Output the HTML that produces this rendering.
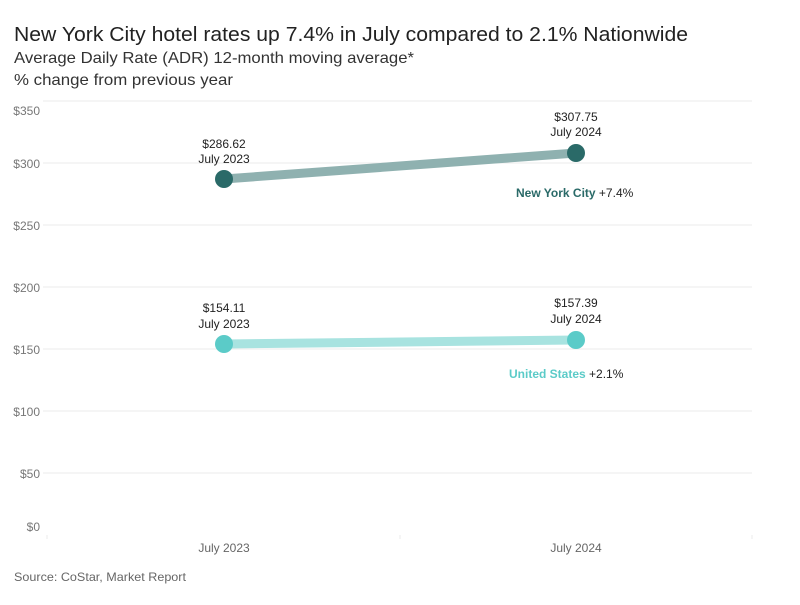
<!DOCTYPE html>
<html><head><meta charset="utf-8"><style>
body{margin:0;background:#fff;font-family:"Liberation Sans",sans-serif;}
</style></head><body>
<svg width="800" height="600" xmlns="http://www.w3.org/2000/svg" font-family="Liberation Sans, sans-serif">
<text x="14" y="41" font-size="20" fill="#222" textLength="674" lengthAdjust="spacingAndGlyphs">New York City hotel rates up 7.4% in July compared to 2.1% Nationwide</text>
<text x="14" y="63" font-size="16" fill="#333" textLength="400" lengthAdjust="spacingAndGlyphs">Average Daily Rate (ADR) 12-month moving average*</text>
<text x="14" y="85" font-size="16" fill="#333" textLength="219" lengthAdjust="spacingAndGlyphs">% change from previous year</text>
<g stroke="#ebebeb" stroke-width="1">
<line x1="43" x2="752" y1="101" y2="101"/><line x1="43" x2="752" y1="163" y2="163"/>
<line x1="43" x2="752" y1="225" y2="225"/><line x1="43" x2="752" y1="287" y2="287"/>
<line x1="43" x2="752" y1="349" y2="349"/><line x1="43" x2="752" y1="411" y2="411"/>
<line x1="43" x2="752" y1="473" y2="473"/>
<line x1="47" x2="47" y1="535" y2="539"/><line x1="400" x2="400" y1="535" y2="539"/><line x1="752" x2="752" y1="535" y2="539"/>
</g>
<g font-size="12" fill="#777" text-anchor="end">
<text x="40" y="115">$350</text><text x="40" y="168">$300</text><text x="40" y="230">$250</text>
<text x="40" y="292">$200</text><text x="40" y="354">$150</text><text x="40" y="416">$100</text>
<text x="40" y="478">$50</text><text x="40" y="531">$0</text>
</g>
<g font-size="12" fill="#666" text-anchor="middle">
<text x="224" y="552">July 2023</text><text x="576" y="552">July 2024</text>
</g>
<text x="14" y="581" font-size="12" fill="#666" textLength="172" lengthAdjust="spacingAndGlyphs">Source: CoStar, Market Report</text>
<line x1="224" y1="179" x2="576" y2="153" stroke="#8fb1b0" stroke-width="9"/>
<circle cx="224" cy="179" r="9" fill="#2a6a68"/><circle cx="576" cy="153" r="9" fill="#2a6a68"/>
<line x1="224" y1="344" x2="576" y2="340" stroke="#a8e3e0" stroke-width="9"/>
<circle cx="224" cy="344" r="9" fill="#5bcbc8"/><circle cx="576" cy="340" r="9" fill="#5bcbc8"/>
<g font-size="12" fill="#222" text-anchor="middle">
<text x="224" y="148">$286.62</text><text x="224" y="163">July 2023</text>
<text x="576" y="121">$307.75</text><text x="576" y="136">July 2024</text>
<text x="224" y="312">$154.11</text><text x="224" y="328">July 2023</text>
<text x="576" y="307">$157.39</text><text x="576" y="323">July 2024</text>
</g>
<text x="516" y="197" font-size="12" fill="#222"><tspan fill="#2a6a68" font-weight="bold">New York City</tspan> +7.4%</text>
<text x="509" y="378" font-size="12" fill="#222"><tspan fill="#5bcbc8" font-weight="bold">United States</tspan> +2.1%</text>
</svg>
</body></html>
